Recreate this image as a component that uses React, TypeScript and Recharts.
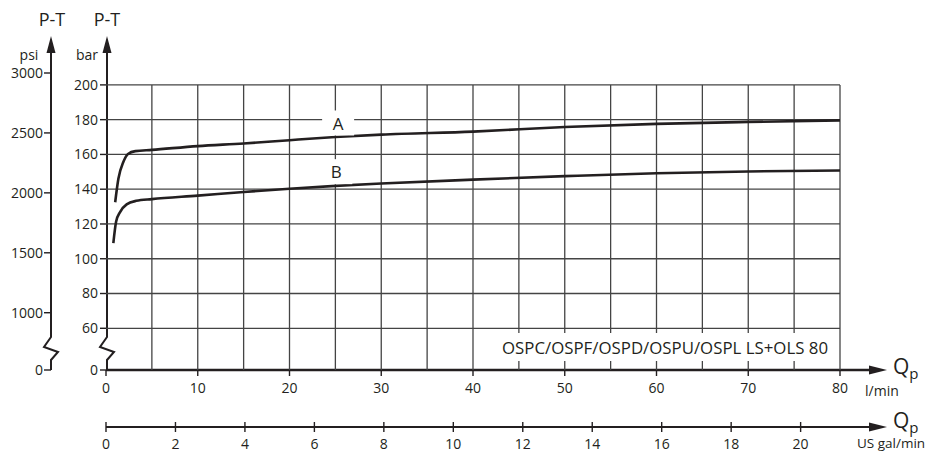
import { LineChart, Line, XAxis, YAxis, ReferenceLine, ReferenceDot } from "recharts";

// pump flow Qp in l/min and P-T in bar
const curveAQ = [1.0, 1.35, 1.9, 2.4, 3.2, 5, 10, 15, 20, 25, 30, 40, 50, 60, 70, 80];
const curveAP = [132.5, 146, 155.8, 160.3, 161.9, 162.6, 164.8, 166.3, 168.2, 170, 171.4, 173.1, 175.8, 177.6, 178.7, 179.6];
const curveBQ = [0.8, 1.1, 1.55, 2.25, 3.3, 5, 10, 15, 20, 25, 30, 40, 50, 60, 70, 80];
const curveBP = [109, 121.3, 127, 131.3, 133.3, 134.3, 136.3, 138.4, 140.3, 141.9, 143.3, 145.5, 147.5, 149.2, 150.2, 150.8];

const barTicks = [0, 60, 80, 100, 120, 140, 160, 180, 200];
const psiTicks = [0, 1000, 1500, 2000, 2500, 3000];
const flowTicks = [0, 10, 20, 30, 40, 50, 60, 70, 80];
const galTicks = [0, 2, 4, 6, 8, 10, 12, 14, 16, 18, 20];
const gridQ = [5, 10, 15, 20, 25, 30, 35, 40, 45, 50, 55, 60, 65, 70, 75, 80];

const NOTE = "OSPC/OSPF/OSPD/OSPU/OSPL LS+OLS 80";
const PSI_PER_BAR = 14.5038;
const L_PER_GAL = 3.78541;

// broken axis: 0..60 bar squeezed into 24 units, above 60 linear
const brk = (bar: number) => (bar >= 60 ? bar - 36 : (bar * 24) / 60);
const TOP = brk(3000 / PSI_PER_BAR);

const INK = "#231f20";
const GRID = "#444";
const FONT = "'Open Sans', sans-serif";

const dataA = curveAQ.map((q, i) => ({ q, p: brk(curveAP[i]) }));
const dataB = curveBQ.map((q, i) => ({ q, p: brk(curveBP[i]) }));

// layout
const W = 937;
const H = 452;
const PL = 106;
const PR = 840;
const PT = 73;
const PB = 370;
const PSI_X = 51;
const GAL_Y = 427;

const CurveLabel = ({ cx, cy, text }: any) => (
  <g>
    <rect x={cx - 16} y={cy - 13} width={32} height={25} fill="#fff" />
    <text x={cx} y={cy} dy="0.36em" textAnchor="middle" fill={INK} fontSize={17} fontFamily={FONT}>
      {text}
    </text>
  </g>
);

const GalTick = ({ x, payload }: any) => (
  <g>
    <line x1={x} x2={x} y1={GAL_Y - 5} y2={GAL_Y + 5} stroke={INK} strokeWidth={1.4} />
    <text x={x} y={GAL_Y + 12} dy="0.71em" textAnchor="middle" fill={INK} fontSize={14} fontFamily={FONT}>
      {payload.value}
    </text>
  </g>
);

const vArrow = (x: number) => (
  <polygon points={`${x},36 ${x - 4.5},53 ${x + 4.5},53`} fill={INK} />
);
const hArrow = (y: number) => (
  <polygon points={`887,${y} 869,${y - 4.5} 869,${y + 4.5}`} fill={INK} />
);
const brokenAxis = (x: number) => (
  <polyline
    points={`${x},50 ${x},337 ${x - 7},347 ${x + 7},352 ${x},360 ${x},${PB}`}
    fill="none"
    stroke={INK}
    strokeWidth={2}
  />
);

export default function App() {
  // text box gap in the vertical grid
  const gapLo = ((PB - 361) / (PB - PT)) * TOP;
  const gapHi = ((PB - 333) / (PB - PT)) * TOP;
  const txt = { fill: INK, fontFamily: FONT };

  return (
    <div style={{ position: "absolute", left: 0, top: 0, background: "#fff" }}>
      <LineChart width={W} height={H} data={dataA} margin={{ top: PT, right: W - PR, left: 0, bottom: 0 }}>
        <XAxis
          xAxisId="flow"
          dataKey="q"
          type="number"
          domain={[0, 80]}
          ticks={flowTicks}
          interval={0}
          allowDataOverflow
          height={57}
          axisLine={false}
          tickSize={6}
          tickMargin={7}
          tickLine={{ stroke: INK, strokeWidth: 1.4 }}
          tick={{ ...txt, fontSize: 14 }}
        />
        <XAxis
          xAxisId="gal"
          dataKey={(d: any) => d.q / L_PER_GAL}
          type="number"
          domain={[0, 80 / L_PER_GAL]}
          ticks={galTicks}
          interval={0}
          allowDataOverflow
          height={25}
          axisLine={false}
          tickLine={false}
          tick={<GalTick />}
        />
        <YAxis
          yAxisId="bar"
          type="number"
          domain={[0, TOP]}
          ticks={barTicks.map(brk)}
          interval={0}
          allowDataOverflow
          width={55}
          axisLine={false}
          tickSize={6}
          tickMargin={2}
          tickLine={{ stroke: INK, strokeWidth: 1.4 }}
          tickFormatter={(_v: number, i: number) => String(barTicks[i])}
          tick={{ ...txt, fontSize: 14 }}
        />
        <YAxis
          yAxisId="psi"
          type="number"
          domain={[0, TOP]}
          ticks={psiTicks.map((v) => brk(v / PSI_PER_BAR))}
          interval={0}
          allowDataOverflow
          width={51}
          axisLine={false}
          tickSize={7}
          tickMargin={1}
          tickLine={{ stroke: INK, strokeWidth: 1.4 }}
          tickFormatter={(_v: number, i: number) => String(psiTicks[i])}
          tick={{ ...txt, fontSize: 14 }}
        />
        {barTicks.slice(1).map((b) => (
          <ReferenceLine key={`h${b}`} xAxisId="flow" yAxisId="bar" y={brk(b)} stroke={GRID} strokeWidth={1.3} />
        ))}
        {gridQ.map((q) =>
          q >= 45 && q <= 75 ? (
            [
              <ReferenceLine key={`${q}a`} xAxisId="flow" yAxisId="bar" segment={[{ x: q, y: 0 }, { x: q, y: gapLo }]} stroke={GRID} strokeWidth={1.3} />,
              <ReferenceLine key={`${q}b`} xAxisId="flow" yAxisId="bar" segment={[{ x: q, y: gapHi }, { x: q, y: brk(200) }]} stroke={GRID} strokeWidth={1.3} />,
            ]
          ) : (
            <ReferenceLine key={q} xAxisId="flow" yAxisId="bar" segment={[{ x: q, y: 0 }, { x: q, y: brk(200) }]} stroke={GRID} strokeWidth={1.3} />
          )
        )}
        <Line xAxisId="flow" yAxisId="bar" data={dataA} dataKey="p" type="monotone" stroke={INK} strokeWidth={2.6} dot={false} isAnimationActive={false} />
        <Line xAxisId="flow" yAxisId="bar" data={dataB} dataKey="p" type="monotone" stroke={INK} strokeWidth={2.6} dot={false} isAnimationActive={false} />
        <ReferenceDot xAxisId="flow" yAxisId="bar" x={25.3} y={brk(177.8)} r={0} shape={(p: any) => <CurveLabel {...p} text="A" />} />
        <ReferenceDot xAxisId="flow" yAxisId="bar" x={25.1} y={brk(149.8)} r={0} shape={(p: any) => <CurveLabel {...p} text="B" />} />

        <g>
          <text x={665} y={348} dy="0.36em" textAnchor="middle" fontSize={17} textLength={326} lengthAdjust="spacingAndGlyphs" {...txt}>
            {NOTE}
          </text>
          {brokenAxis(PSI_X)}
          {brokenAxis(PL + 1)}
          {vArrow(PSI_X)}
          {vArrow(PL + 1)}
          <line x1={PL} x2={875} y1={PB} y2={PB} stroke={INK} strokeWidth={2.6} />
          <line x1={PL} x2={875} y1={GAL_Y} y2={GAL_Y} stroke={INK} strokeWidth={2.2} />
          {hArrow(PB)}
          {hArrow(GAL_Y)}
          <text x={52} y={20} dy="0.36em" textAnchor="middle" fontSize={18} {...txt}>P-T</text>
          <text x={107} y={20} dy="0.36em" textAnchor="middle" fontSize={18} {...txt}>P-T</text>
          <text x={29} y={55} dy="0.36em" textAnchor="middle" fontSize={14} {...txt}>psi</text>
          <text x={87} y={55} dy="0.36em" textAnchor="middle" fontSize={14} {...txt}>bar</text>
          <text x={893} y={366} dy="0.36em" fontSize={21} {...txt}>
            Q<tspan fontSize={15} dy={5}>p</tspan>
          </text>
          <text x={865} y={391} dy="0.36em" fontSize={14} {...txt}>l/min</text>
          <text x={893} y={420} dy="0.36em" fontSize={21} {...txt}>
            Q<tspan fontSize={15} dy={5}>p</tspan>
          </text>
          <text x={857} y={443} dy="0.36em" fontSize={13.5} {...txt}>US gal/min</text>
        </g>
      </LineChart>
    </div>
  );
}
